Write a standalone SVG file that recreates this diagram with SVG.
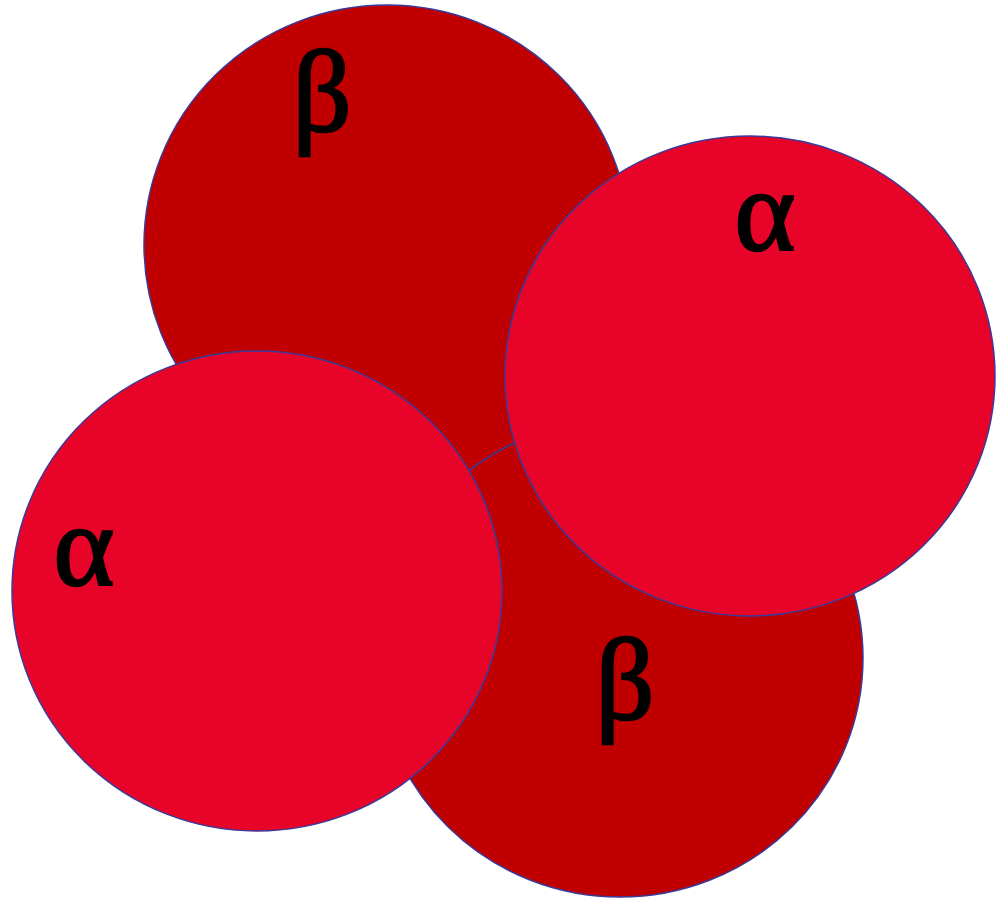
<svg xmlns="http://www.w3.org/2000/svg" width="998" height="900" viewBox="0 0 998 900">
<style>
.c{stroke:#3A3A9A;stroke-width:1.5}
.b{fill:#C00000}
.a{fill:#E70428}
.t{font-family:"Liberation Serif","DejaVu Serif",serif;font-size:116px;fill:#000;stroke:#000;stroke-width:2.5;text-anchor:middle}
</style>
<rect width="998" height="900" fill="#fff"/>
<g id="beta-top"><ellipse class="c b" cx="387" cy="245" rx="243" ry="240"/><text class="t" x="322" y="131">β</text></g>
<g id="beta-bottom"><ellipse class="c b" cx="620" cy="658" rx="243" ry="239"/><text class="t" x="625" y="719">β</text></g>
<g id="alpha-left"><ellipse class="c a" cx="257" cy="591" rx="245" ry="240"/><text class="t" x="84" y="585">α</text></g>
<g id="alpha-right"><ellipse class="c a" cx="750" cy="376" rx="245" ry="240"/><text class="t" x="765" y="250">α</text></g>
</svg>
